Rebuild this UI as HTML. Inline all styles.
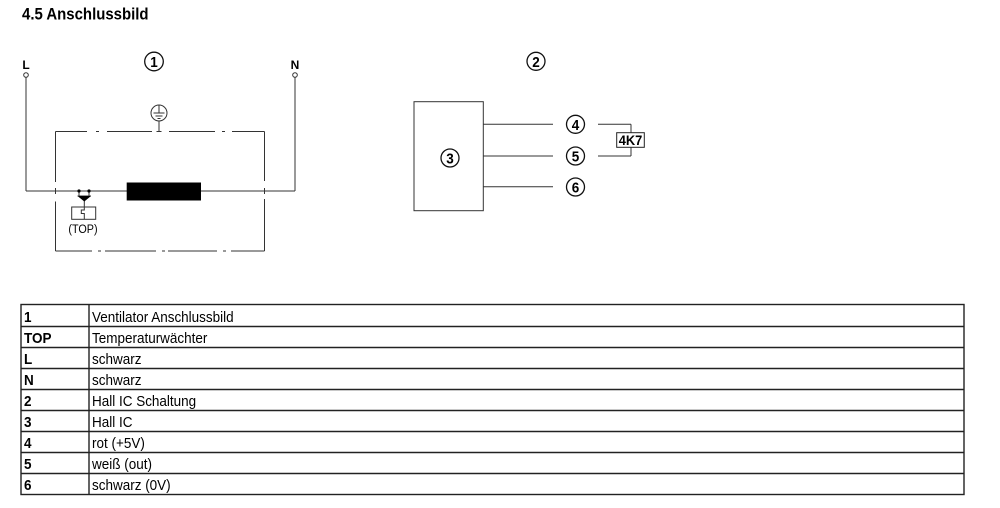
<!DOCTYPE html>
<html>
<head>
<meta charset="utf-8">
<style>
html,body{margin:0;padding:0;background:#fff;}
svg{display:block;}
text{font-family:"Liberation Sans",Arial,sans-serif;fill:#000;}
.b{font-weight:bold;}
</style>
</head>
<body>
<svg width="1000" height="508" viewBox="0 0 1000 508" xmlns="http://www.w3.org/2000/svg">
<!-- Title -->
<text class="b" font-size="17" transform="translate(22 19.5) scale(0.88 1)">4.5 Anschlussbild</text>

<!-- Diagram 1 -->
<g stroke="#333" stroke-width="1" fill="none">
  <circle cx="26" cy="75" r="2.3"/>
  <line x1="26" y1="77.3" x2="26" y2="191"/>
  <circle cx="295" cy="75" r="2.3"/>
  <line x1="295" y1="77.3" x2="295" y2="191"/>
  <line x1="26" y1="191" x2="295" y2="191"/>
  <line x1="55.5" y1="131.5" x2="87" y2="131.5"/>
  <line x1="96" y1="131.5" x2="99" y2="131.5"/>
  <line x1="107" y1="131.5" x2="152" y2="131.5"/>
  <line x1="156.5" y1="131.5" x2="161.5" y2="131.5"/>
  <line x1="169" y1="131.5" x2="215" y2="131.5"/>
  <line x1="222" y1="131.5" x2="225" y2="131.5"/>
  <line x1="232" y1="131.5" x2="264.5" y2="131.5"/>
  <line x1="55.5" y1="131.5" x2="55.5" y2="182"/>
  <line x1="55.5" y1="188" x2="55.5" y2="194"/>
  <line x1="55.5" y1="201.5" x2="55.5" y2="251"/>
  <line x1="264.5" y1="131.5" x2="264.5" y2="181"/>
  <line x1="264.5" y1="188" x2="264.5" y2="194"/>
  <line x1="264.5" y1="199" x2="264.5" y2="251"/>
  <line x1="55.5" y1="251" x2="92" y2="251"/>
  <line x1="98" y1="251" x2="101" y2="251"/>
  <line x1="105" y1="251" x2="156" y2="251"/>
  <line x1="162" y1="251" x2="165" y2="251"/>
  <line x1="168" y1="251" x2="217" y2="251"/>
  <line x1="223" y1="251" x2="226" y2="251"/>
  <line x1="231" y1="251" x2="264.5" y2="251"/>
  <circle cx="159" cy="113" r="8"/>
  <line x1="159" y1="105" x2="159" y2="113"/>
  <line x1="153.5" y1="113" x2="164.5" y2="113"/>
  <line x1="155.5" y1="116" x2="162.5" y2="116"/>
  <line x1="157.5" y1="118.5" x2="160.5" y2="118.5"/>
  <line x1="159" y1="121" x2="159" y2="131.5"/>
  <line x1="79" y1="191" x2="79" y2="196"/>
  <line x1="89" y1="191" x2="89" y2="196"/>
  <line x1="77.5" y1="196" x2="91" y2="196"/>
  <line x1="84.3" y1="201" x2="84.3" y2="207"/>
  <rect x="71.7" y="207" width="24" height="12.3"/>
  <path d="M84.3 207 v3 h-3 v3.5 h3 v5.8"/>
</g>
<circle cx="79" cy="191" r="1.6" fill="#000"/>
<circle cx="89" cy="191" r="1.6" fill="#000"/>
<polygon points="77.5,196 91,196 84.3,201.5" fill="#000"/>
<rect x="126.7" y="182.5" width="74.3" height="18" fill="#000"/>
<text font-size="12" text-anchor="middle" transform="translate(83 233) scale(0.9 1)">(TOP)</text>

<text class="b" font-size="12" text-anchor="middle" x="26" y="69">L</text>
<text class="b" font-size="12" text-anchor="middle" x="295" y="69">N</text>

<!-- circled numbers -->
<g fill="none" stroke="#111" stroke-width="1.3">
  <circle cx="154" cy="61.5" r="9.3"/>
  <circle cx="536" cy="61.3" r="9"/>
  <circle cx="450" cy="158" r="9"/>
  <circle cx="575.5" cy="124.3" r="9"/>
  <circle cx="575.5" cy="156" r="9"/>
  <circle cx="575.5" cy="187" r="9"/>
</g>
<g class="b" font-size="15" text-anchor="middle">
  <text transform="translate(154 67) scale(0.9 1)">1</text>
  <text transform="translate(536 66.8) scale(0.9 1)">2</text>
  <text transform="translate(450 163.5) scale(0.9 1)">3</text>
  <text transform="translate(575.5 129.8) scale(0.9 1)">4</text>
  <text transform="translate(575.5 161.5) scale(0.9 1)">5</text>
  <text transform="translate(575.5 192.5) scale(0.9 1)">6</text>
</g>

<!-- Diagram 2 -->
<g stroke="#333" stroke-width="1" fill="none">
  <rect x="414" y="101.7" width="69.3" height="109"/>
  <line x1="483.3" y1="124.3" x2="553" y2="124.3"/>
  <line x1="483.3" y1="156" x2="553" y2="156"/>
  <line x1="483.3" y1="186.7" x2="553" y2="186.7"/>
  <line x1="598" y1="124.3" x2="631" y2="124.3"/>
  <line x1="598" y1="156" x2="631" y2="156"/>
  <line x1="631" y1="124.3" x2="631" y2="132.7"/>
  <line x1="631" y1="147.3" x2="631" y2="156"/>
  <rect x="616.7" y="132.7" width="27.6" height="14.6" stroke="#222"/>
</g>
<text class="b" font-size="14" text-anchor="middle" transform="translate(630.5 145) scale(0.92 1)">4K7</text>

<!-- Table -->
<g stroke="#222" stroke-width="1.4" fill="none">
  <rect x="21" y="304.5" width="943" height="190"/>
  <line x1="89" y1="304.5" x2="89" y2="494.5"/>
  <line x1="21" y1="326.5" x2="964" y2="326.5"/>
  <line x1="21" y1="347.5" x2="964" y2="347.5"/>
  <line x1="21" y1="368.5" x2="964" y2="368.5"/>
  <line x1="21" y1="389.5" x2="964" y2="389.5"/>
  <line x1="21" y1="410.5" x2="964" y2="410.5"/>
  <line x1="21" y1="431.5" x2="964" y2="431.5"/>
  <line x1="21" y1="452.5" x2="964" y2="452.5"/>
  <line x1="21" y1="473.5" x2="964" y2="473.5"/>
</g>
<g class="b" font-size="15">
  <text transform="translate(24 322) scale(0.9 1)">1</text>
  <text transform="translate(24 343) scale(0.9 1)">TOP</text>
  <text transform="translate(24 364) scale(0.9 1)">L</text>
  <text transform="translate(24 385) scale(0.9 1)">N</text>
  <text transform="translate(24 406) scale(0.9 1)">2</text>
  <text transform="translate(24 427) scale(0.9 1)">3</text>
  <text transform="translate(24 448) scale(0.9 1)">4</text>
  <text transform="translate(24 469) scale(0.9 1)">5</text>
  <text transform="translate(24 490) scale(0.9 1)">6</text>
</g>
<g font-size="15">
  <text transform="translate(92 322) scale(0.9 1)">Ventilator Anschlussbild</text>
  <text transform="translate(92 343) scale(0.9 1)">Temperaturwächter</text>
  <text transform="translate(92 364) scale(0.9 1)">schwarz</text>
  <text transform="translate(92 385) scale(0.9 1)">schwarz</text>
  <text transform="translate(92 406) scale(0.9 1)">Hall IC Schaltung</text>
  <text transform="translate(92 427) scale(0.9 1)">Hall IC</text>
  <text transform="translate(92 448) scale(0.9 1)">rot (+5V)</text>
  <text transform="translate(92 469) scale(0.9 1)">weiß (out)</text>
  <text transform="translate(92 490) scale(0.9 1)">schwarz (0V)</text>
</g>
</svg>
</body>
</html>
